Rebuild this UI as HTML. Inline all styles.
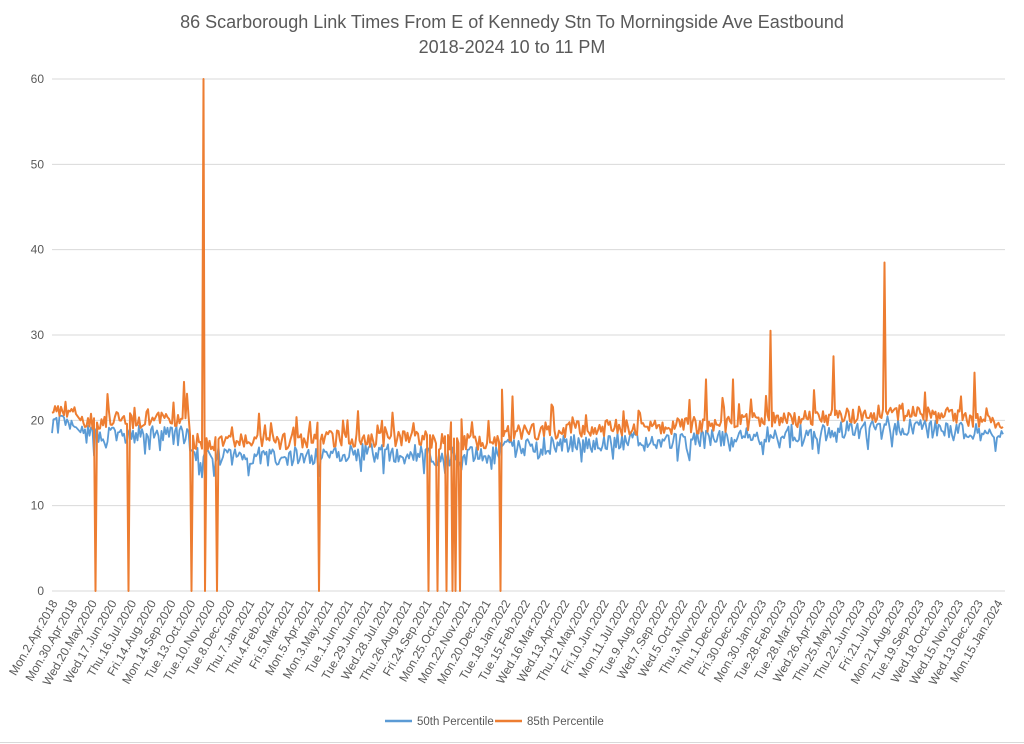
<!DOCTYPE html>
<html><head><meta charset="utf-8"><style>
html,body{margin:0;padding:0;background:#fff;}
svg{display:block;font-family:"Liberation Sans",sans-serif;}
</style></head><body>
<svg id="s" width="1024" height="744" xmlns="http://www.w3.org/2000/svg">
<rect width="1024" height="744" fill="#fff"/>
<text x="512" y="28" font-size="18" fill="#595959" text-anchor="middle">86 Scarborough Link Times From E of Kennedy Stn To Morningside Ave Eastbound</text>
<text x="512" y="53" font-size="18" fill="#595959" text-anchor="middle">2018-2024 10 to 11 PM</text>
<g id="grid" stroke="#d9d9d9" stroke-width="1"></g>
<g id="ylab" font-size="12" fill="#595959" text-anchor="end"></g>
<polyline id="p50" fill="none" stroke="#5B9BD5" stroke-width="1.8" stroke-linejoin="round"/>
<polyline id="p85" fill="none" stroke="#ED7D31" stroke-width="2" stroke-linejoin="round"/>
<g id="xlab" font-size="12" fill="#595959" text-anchor="end"></g>
<line x1="385" y1="721" x2="412" y2="721" stroke="#5B9BD5" stroke-width="2.5"/>
<text x="417" y="725" font-size="11.5" fill="#595959">50th Percentile</text>
<line x1="495" y1="721" x2="522" y2="721" stroke="#ED7D31" stroke-width="2.5"/>
<text x="527" y="725" font-size="11.5" fill="#595959">85th Percentile</text>
<line x1="0" y1="742.5" x2="1024" y2="742.5" stroke="#d9d9d9"/>
</svg>
<script>
var NS="http://www.w3.org/2000/svg";
function el(t,a,p,txt){var e=document.createElementNS(NS,t);for(var k in a)e.setAttribute(k,a[k]);if(txt)e.textContent=txt;p.appendChild(e);return e;}
var y0=591,ppu=8.533;function Y(v){return y0-v*ppu;}
var g=document.getElementById('grid'),yl=document.getElementById('ylab');
for(var v=0;v<=60;v+=10){el('line',{x1:52,x2:1005,y1:Y(v),y2:Y(v)},g);el('text',{x:44,y:Y(v)+4},yl,''+v);}
var labs="Mon.2.Apr.2018,Mon.30.Apr.2018,Wed.20.May.2020,Wed.17.Jun.2020,Thu.16.Jul.2020,Fri.14.Aug.2020,Mon.14.Sep.2020,Tue.13.Oct.2020,Tue.10.Nov.2020,Tue.8.Dec.2020,Thu.7.Jan.2021,Thu.4.Feb.2021,Fri.5.Mar.2021,Mon.5.Apr.2021,Mon.3.May.2021,Tue.1.Jun.2021,Tue.29.Jun.2021,Wed.28.Jul.2021,Thu.26.Aug.2021,Fri.24.Sep.2021,Mon.25.Oct.2021,Mon.22.Nov.2021,Mon.20.Dec.2021,Tue.18.Jan.2022,Tue.15.Feb.2022,Wed.16.Mar.2022,Wed.13.Apr.2022,Thu.12.May.2022,Fri.10.Jun.2022,Mon.11.Jul.2022,Tue.9.Aug.2022,Wed.7.Sep.2022,Wed.5.Oct.2022,Thu.3.Nov.2022,Thu.1.Dec.2022,Fri.30.Dec.2022,Mon.30.Jan.2023,Tue.28.Feb.2023,Tue.28.Mar.2023,Wed.26.Apr.2023,Thu.25.May.2023,Thu.22.Jun.2023,Fri.21.Jul.2023,Mon.21.Aug.2023,Tue.19.Sep.2023,Wed.18.Oct.2023,Wed.15.Nov.2023,Wed.13.Dec.2023,Mon.15.Jan.2024".split(',');
var xl=document.getElementById('xlab');var step=(1000-55)/(labs.length-1);
for(var i=0;i<labs.length;i++){var x=55+i*step;el('text',{transform:'translate('+(x+3)+',603) rotate(-60)'},xl,labs[i]);}
var seed=7;function r(){seed=(seed*16807)%2147483647;return seed/2147483647;}
function base(x){if(x<76)return 19.6;if(x<190)return 18.3;if(x<320)return 15.8;if(x<430)return 16.2;if(x<500)return 15.8;if(x<640)return 16.8+(x-500)/140*0.8;if(x<880)return 17.3+(x-640)/240*1.8;return 19.5-(x-880)/125*1.3;}
var drops=[96,129,191,205,217,319,428,438,447,452,456,460,501];
var spikes={184:24.5,204:60,771:30.5,834:27.5,884:38.5,975:25.6,706:24.8,733:24.8,502:23.6,512:22.8};
var a50=[],a85=[];
for(var x=52;x<=1004;x+=1.5){if(x>76&&x<80)continue;var b=base(x);var n=(r()-0.5)*2.2+(r()<0.1?-1.5:0);var v50=b+n;var v85=b+1.5+(r()-0.4)*2+(r()<0.07?2.3:0);
for(var k in spikes){if(Math.abs(k-x)<0.8)v85=spikes[k];}
for(var d=0;d<drops.length;d++){if(Math.abs(drops[d]-x)<0.8)v85=0;}
a50.push(x.toFixed(1)+','+Y(v50).toFixed(1));a85.push(x.toFixed(1)+','+Y(v85).toFixed(1));}
document.getElementById('p50').setAttribute('points',a50.join(' '));
document.getElementById('p85').setAttribute('points',a85.join(' '));
</script>
</body></html>
